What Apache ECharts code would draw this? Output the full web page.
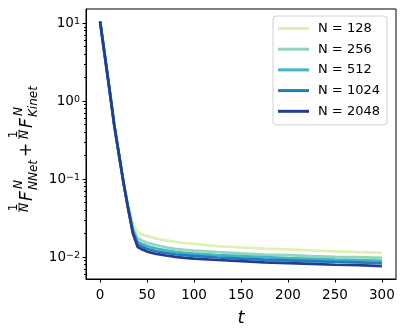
<!DOCTYPE html>
<html lang="en">

<head>
    <meta charset="UTF-8">
    <title>eCharts</title>
    <script src="https://cdn.jsdelivr.net/npm/echarts@6.0.0/dist/echarts.min.js"></script>
    <style>
        body { margin: 0; }
    </style>
</head>

<body>
    <div id="main" style="width: 406px;height:336px;"></div>
    <script type="text/javascript">
        // time steps
        const t = [0, 5, 10, 15, 20, 25, 30, 35, 40, 45, 50, 60, 70, 80, 90, 100, 125, 150, 175, 200, 225, 250, 275, 300];
        // free energy per system size
        const n128 = [10.5, 3.85, 1.41, 0.50, 0.21, 0.090, 0.047, 0.027, 0.021, 0.0195, 0.0186, 0.0173, 0.0164, 0.0157, 0.0152, 0.0148, 0.0138, 0.0133, 0.0129, 0.0126, 0.0122, 0.0119, 0.0116, 0.0114];
        const n256 = [10.5, 3.85, 1.41, 0.50, 0.21, 0.089, 0.043, 0.0235, 0.0175, 0.0163, 0.0153, 0.0142, 0.0134, 0.0128, 0.0124, 0.0121, 0.0116, 0.0112, 0.0108, 0.0106, 0.0103, 0.0101, 0.0100, 0.0098];
        const n512 = [10.5, 3.85, 1.41, 0.50, 0.21, 0.089, 0.042, 0.0218, 0.0158, 0.0148, 0.0139, 0.0129, 0.0122, 0.0117, 0.0114, 0.0111, 0.0106, 0.0103, 0.0100, 0.0097, 0.0095, 0.0093, 0.0092, 0.0090];
        const n1024 = [10.5, 3.85, 1.41, 0.50, 0.21, 0.089, 0.0415, 0.0208, 0.0146, 0.0136, 0.0128, 0.0119, 0.0113, 0.0109, 0.0106, 0.0104, 0.0099, 0.0096, 0.0093, 0.0091, 0.0089, 0.0087, 0.0086, 0.0084];
        const n2048 = [10.5, 3.85, 1.41, 0.50, 0.21, 0.089, 0.041, 0.0200, 0.0135, 0.0125, 0.0118, 0.0110, 0.0105, 0.0101, 0.0098, 0.0096, 0.0092, 0.0089, 0.0086, 0.0084, 0.0082, 0.0080, 0.0079, 0.0077];

        const names = ['N = 128', 'N = 256', 'N = 512', 'N = 1024', 'N = 2048'];
        const colors = ['#ddf2b2', '#93d5ba', '#42b6c4', '#1f7fb8', '#243c93'];
        const allSeries = [n128, n256, n512, n1024, n2048];

        const xTicks = [0, 50, 100, 150, 200, 250, 300];
        const yTicks = [0.01, 0.1, 1, 10];
        const yMinor = [0.006, 0.007, 0.008, 0.009, 0.02, 0.03, 0.04, 0.05, 0.06, 0.07, 0.08, 0.09,
            0.2, 0.3, 0.4, 0.5, 0.6, 0.7, 0.8, 0.9, 2, 3, 4, 5, 6, 7, 8, 9];

        const font = '"DejaVu Sans"';
        let myChart = echarts.init(document.getElementById('main'));

        // y label: 1/N F^N_NNet + 1/N F^N_Kinet, built in text direction then rotated
        const FF = 'italic 17px ' + font;
        const SS = 'italic 12px ' + font;
        const RR = '12px ' + font;
        function txt(x, y, s, f, align) {
            return { type: 'text', x: x, y: y, style: { text: s, font: f, fill: '#000', align: align || 'left', verticalAlign: 'middle' } };
        }
        function frac(x0) {
            return [
                txt(x0 + 4.5, 13.5, '1', RR, 'center'),
                { type: 'line', shape: { x1: x0, y1: 19, x2: x0 + 9.5, y2: 19 }, style: { stroke: '#000', lineWidth: 0.8 } },
                txt(x0 + 4.5, 24.5, 'N', SS, 'center')
            ];
        }
        const ylabel = [].concat(
            frac(0),
            [txt(11, 28, 'F', FF), txt(23, 18.5, 'N', SS), txt(22, 33.5, 'NNet', SS)],
            [txt(62, 27, '+', '17px ' + font, 'center')],
            frac(73),
            [txt(84, 28, 'F', FF), txt(96, 18.5, 'N', SS), txt(95, 33.5, 'Kinet', SS)]
        );

        let options = {
            animation: false,
            grid: { left: 86, right: 10, top: 9, bottom: 57, show: true, borderColor: '#000', borderWidth: 1 },
            legend: {
                orient: 'vertical',
                left: 273,
                top: 16,
                padding: [5, 7, 6, 5],
                itemWidth: 31,
                itemHeight: 3,
                itemGap: 5.7,
                icon: 'rect',
                borderColor: '#d0d0d0',
                borderWidth: 1,
                borderRadius: 3,
                backgroundColor: 'rgba(255,255,255,0.8)',
                textStyle: { fontFamily: font, fontSize: 13, lineHeight: 15, color: '#000', padding: [0, 0, 0, 4] },
                data: names
            },
            xAxis: {
                type: 'value',
                min: -15,
                max: 315,
                name: 't',
                nameLocation: 'middle',
                nameGap: 30,
                nameTextStyle: { fontFamily: font, fontSize: 18, fontStyle: 'italic', color: '#000' },
                splitLine: { show: false },
                axisLine: { onZero: false, lineStyle: { color: '#000', width: 1 } },
                axisTick: { length: 3.5, lineStyle: { color: '#000' }, customValues: xTicks },
                axisLabel: { fontFamily: font, fontSize: 13.5, color: '#000', margin: 9, customValues: xTicks }
            },
            yAxis: [{
                type: 'log',
                logBase: 10,
                min: 0.00525,
                max: 15.2,
                splitLine: { show: false },
                axisLine: { show: true, onZero: false, lineStyle: { color: '#000', width: 1 } },
                axisTick: { show: true, length: 3.5, lineStyle: { color: '#000' }, customValues: yTicks },
                axisLabel: {
                    fontFamily: font, color: '#000', margin: 6, customValues: yTicks,
                    formatter: function (v) {
                        const e = Math.round(Math.log10(v));
                        return '{b|10}{s|' + (e < 0 ? '\u2212' + (-e) : e) + '}';
                    },
                    rich: {
                        b: { fontFamily: font, fontSize: 13.5, lineHeight: 14, color: '#000' },
                        s: { fontFamily: font, fontSize: 9.5, lineHeight: 10, verticalAlign: 'top', color: '#000' }
                    }
                }
            }, {
                type: 'log',
                logBase: 10,
                min: 0.00525,
                max: 15.2,
                position: 'left',
                splitLine: { show: false },
                axisLine: { show: false, onZero: false },
                axisLabel: { show: false },
                axisTick: { show: true, length: 2, lineStyle: { color: '#000' }, customValues: yMinor }
            }],
            graphic: [{
                type: 'group',
                x: 0,
                y: 212,
                rotation: Math.PI / 2,
                children: ylabel
            }],
            series: allSeries.map((vals, i) => ({
                name: names[i],
                type: 'line',
                showSymbol: false,
                color: colors[i],
                lineStyle: { width: 2.7, color: colors[i] },
                data: t.map((tt, j) => [tt, vals[j]])
            }))
        };

        myChart.setOption(options);
    </script>
</body>

</html>
